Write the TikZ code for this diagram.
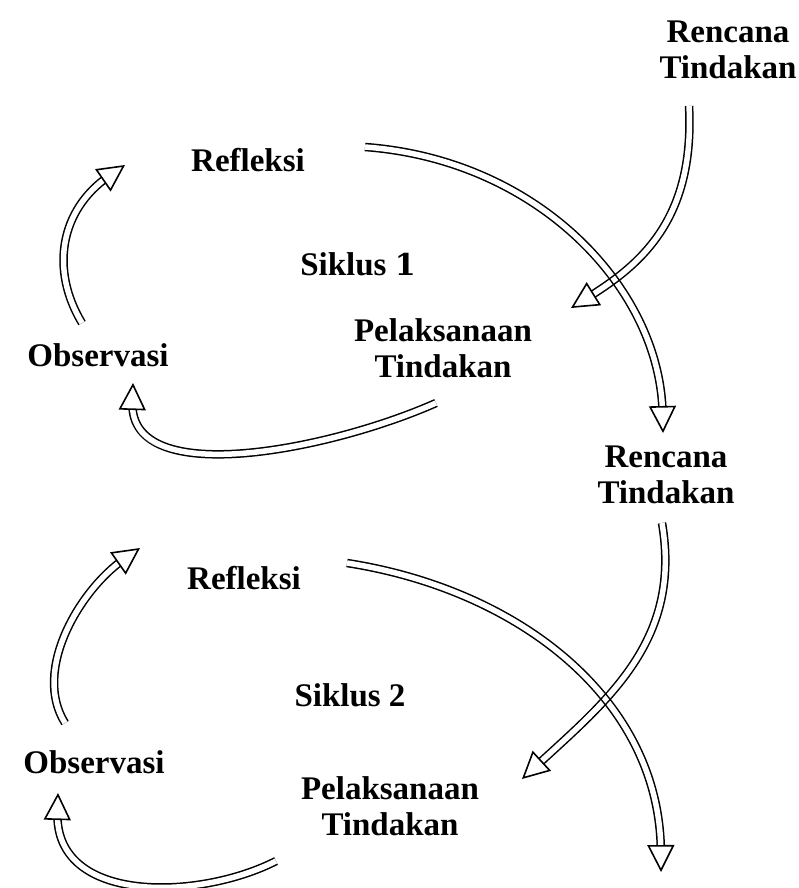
\documentclass[tikz,border=0pt]{standalone}
\usepackage{fontspec}
\setmainfont{Liberation Serif}
\newfontfamily\dvs{DejaVu Serif}
\usetikzlibrary{arrows.meta}
\tikzset{
  lbl/.style={font=\bfseries\fontsize{33}{36}\selectfont, align=center, inner sep=0pt},
  dbl/.style={draw=black, line width=1.5pt, double=white, double distance=5.5pt, shorten >=20pt},
  tip/.style={draw=white, line width=0.1pt,
    -{Triangle[length=27pt,width=27pt,line width=1.6pt,color=black,fill=white]}},
}
\newcommand\dblpath[1]{\begin{scope}[blend mode=multiply]\begin{scope}[transparency group]\path (0,0) rectangle (799,888);\draw[dbl] #1;\draw[tip] #1;\end{scope}\end{scope}}
\begin{document}
\begin{tikzpicture}[x=1pt,y=-1pt]
\useasboundingbox (0,0) rectangle (799,888);
% labels
\node[lbl] (r0) at (728,50) {Rencana\\Tindakan};
\node[lbl] (ref1) at (248,160) {Refleksi};
\node[lbl] (s1) at (358,264) {Siklus {\dvs\fontsize{30}{30}\selectfont 1}};
\node[lbl] (p1) at (443,348) {Pelaksanaan\\Tindakan};
\node[lbl] (o1) at (98,355) {Observasi};
\node[lbl] (r2) at (666,475) {Rencana\\Tindakan};
\node[lbl] (ref2) at (244,578) {Refleksi};
\node[lbl] (s2) at (350,695) {Siklus 2};
\node[lbl] (o2) at (94,762) {Observasi};
\node[lbl] (p2) at (390,806) {Pelaksanaan\\Tindakan};
% connector end points
\coordinate (a1s) at (689,106); \coordinate (a1e) at (571,308);
\coordinate (a2s) at (365,147); \coordinate (a2e) at (663,433);
\coordinate (a3s) at (436,403); \coordinate (a3e) at (133,383);
\coordinate (a4s) at (82,323);  \coordinate (a4e) at (125,165);
\coordinate (a5s) at (662,523); \coordinate (a5e) at (522,779);
\coordinate (a6s) at (347,563); \coordinate (a6e) at (661,872);
\coordinate (a7s) at (276,861); \coordinate (a7e) at (58,793);
\coordinate (a8s) at (65,723);  \coordinate (a8e) at (140,548);
% cycle 1
\dblpath{(a1s) .. controls (695,220) and (640,265) .. (a1e)}
\dblpath{(a2s) .. controls (540,160) and (660,290) .. (a2e)}
\dblpath{(a3s) .. controls (330,450) and (130,490) .. (a3e)}
\dblpath{(a4s) .. controls (50,270) and (60,210) .. (a4e)}
% cycle 2
\dblpath{(a5s) .. controls (682,640) and (608,700) .. (a5e)}
\dblpath{(a6s) .. controls (520,590) and (660,700) .. (a6e)}
\dblpath{(a7s) .. controls (200,900) and (55,905) .. (a7e)}
\dblpath{(a8s) .. controls (32,670) and (80,590) .. (a8e)}
\end{tikzpicture}
\end{document}
